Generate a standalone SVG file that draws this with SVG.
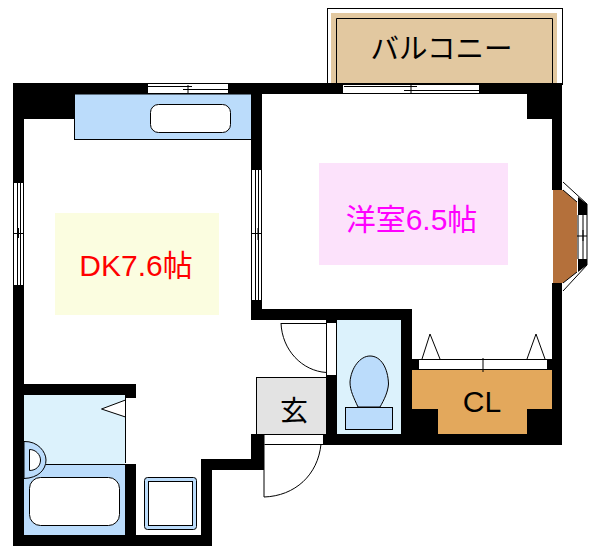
<svg xmlns="http://www.w3.org/2000/svg" width="600" height="552" viewBox="0 0 600 552">
<style>
.w{fill:#000}
.l{fill:none;stroke:#000;stroke-width:1}
.lw{fill:#fff;stroke:#000;stroke-width:1}
.b{fill:#bbdcfb;stroke:#000;stroke-width:1}
text{font-family:"Liberation Sans","Noto Sans CJK JP",sans-serif;text-anchor:middle}
</style>
<rect width="600" height="552" fill="#fff"/>
<g id="balcony">
<rect x="327.500" y="8.500" width="235" height="76" class="lw"/>
<rect x="331" y="13" width="226" height="71" fill="#e2c8a0"/>
<path d="M336.500 83V18.500H552.500V83" class="l"/>
<text x="441.500" y="59" font-size="28.500" fill="#000">バルコニー</text>
</g>
<g id="dk">
<rect x="55" y="213" width="164" height="102" fill="#fbfde0"/>
<text x="136" y="276" font-size="30" fill="#f00">DK7.6帖</text>
</g>
<g id="kitchen">
<rect x="74.500" y="94" width="177" height="45.500" class="b"/>
<rect x="150.500" y="104.500" width="80" height="28" rx="8" class="lw"/>
</g>
<g id="room">
<rect x="319" y="163" width="189" height="102" fill="#fce2fb"/>
<text x="411.500" y="230" font-size="30" fill="#f0f">洋室6.5帖</text>
</g>
<g id="bath">
<rect x="24" y="395" width="101" height="69" fill="#dcf2fc"/>
<rect x="24" y="464" width="101" height="71" fill="#bbdcfb"/>
<path d="M46 464.500H125" class="l"/>
<rect x="29.500" y="477.500" width="90" height="48" rx="11" class="lw"/>
<path d="M24 441.500C38 441 46 452 46 460C46 470 38 478 24 478.500Z" class="b"/>
<path d="M29.500 449.500C36 449.500 40.500 455 40.500 460C40.500 466 36 470.500 29.500 470.500Z" class="lw"/>
<path d="M125.500 400L101.500 409L125.500 417Z" class="lw"/>
</g>
<g id="washer">
<rect x="144.500" y="477.500" width="52" height="52" rx="3" class="b"/>
<rect x="148.500" y="481.500" width="44" height="44" class="lw"/>
</g>
<g id="entrance">
<rect x="256.500" y="377.500" width="70" height="57" fill="#e3e3e3" stroke="#000"/>
<text x="294" y="421" font-size="28" fill="#000">玄</text>
</g>
<g id="toilet">
<rect x="337" y="320" width="64" height="114" fill="#dcf2fc"/>
<path d="M358 407C354 398 350 391 350 382C351 368 360 356 370 356C381 356 388 368 388.500 384C388 392 384 400 380 407Z" class="b"/>
<rect x="345.500" y="407.500" width="47" height="22" class="b"/>
</g>
<g id="closet">
<rect x="412" y="370" width="140" height="64" fill="#e3a85c"/>
<text x="482" y="412" font-size="30" fill="#000">CL</text>
</g>
<g id="walls">
<path class="w" d="M13 83H148V94H74V119H24V183H13ZM228 83H343V94H262V170H251V94H228ZM479 83H562V190H552V119H527V94H479ZM552 283H562V445H323V434H326V375H337V434H401V320H337V323H326V320H251V300H262V309H412V359H419V370H412V409H438V434H527V409H552V370H547V359H552ZM13 285H24V384H136V398H125V395H24V535H125V464H136V535H201V459H251V434H264V470H212V546H13Z"/>
<path class="w" d="M578 197L587 204V215H578ZM578 259H587V265L578 272Z"/>
</g>
<g id="bay">
<path d="M553 190H563L577 202V272L563 283H553Z" fill="#b4703b"/>
<path d="M563 182L587 204V265L563 291" class="l"/>
<path d="M563 190L577 202M563 283L577 272M578 215V259M583 215V259M577 236H587M583 230V241" class="l"/>
</g>
<g id="openings">
<path class="l" d="M148 83.500H228M148 93.500H228M148 86.500H192M183 89.500H228M188 85V93"/>
<path class="l" d="M343 83.500H479M343 93.500H479M344 86.500H417M404 90.500H479M411 84V94"/>
<path class="l" d="M13.500 183V285M23.500 183V285M17.500 183V285M20.500 183V285M14 233.500H24M18.500 228V238"/>
<path class="l" d="M251.500 170V300M261.500 170V300M255.500 170V300M258.500 170V300M252 233.500H262M258 228V240"/>
<path class="l" d="M125.500 398V463"/>
<path class="l" d="M281 323.500H326.500M326.500 323V375M336.500 323V375M281 323C282 350 302 371 326.500 372.500"/>
<path class="l" d="M264 434.500V497M264.500 444.500H323M321 444C318 475 295 496 264 497"/>
<path class="l" d="M419 359.500H547M419 369.500H547M483 358V372"/>
<path class="l" d="M422 359L430 334L440 359M527 359L536 334L545 359"/>
</g>
</svg>
